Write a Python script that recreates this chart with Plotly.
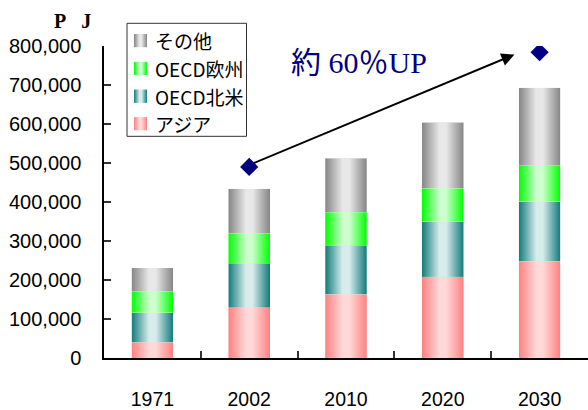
import base64
import plotly.graph_objects as go

# Energy demand by region (PJ)
years = ["1971", "2002", "2010", "2020", "2030"]
asia = [40000, 129000, 163000, 208000, 248000]
oecd_na = [76000, 114000, 126000, 142000, 153000]
oecd_eu = [55000, 77000, 85000, 85000, 92000]
others = [60000, 114000, 138000, 169000, 200000]

# Highlighted growth markers
marker_years = ["2002", "2030"]
marker_values = [490000, 784000]

y_ticks = [0, 100000, 200000, 300000, 400000, 500000, 600000, 700000, 800000]

series = [
    ("アジア", asia, "#ff8080", "#ffd8d8"),
    ("OECD北米", oecd_na, "#137a7a", "#d8ecec"),
    ("OECD欧州", oecd_eu, "#00ff00", "#ccffcc"),
    ("その他", others, "#858585", "#e8e8e8"),
]

BAR_WIDTH = 0.43

# plot area in pixels, used to place the hand-built legend
W, H = 588, 410
L, R, T, B = 104, 0, 46, 41
PW, PH = W - L - R, H - T - B


def px_x(px):
    return (px - L) / PW


def px_y(py):
    return (H - B - py) / PH


def gradient_uri(edge, center):
    svg = (
        '<svg xmlns="http://www.w3.org/2000/svg" width="100" height="100" '
        'viewBox="0 0 100 100" preserveAspectRatio="none">'
        '<defs><linearGradient id="g" x1="0" x2="1" y1="0" y2="0">'
        f'<stop offset="0" stop-color="{edge}"/>'
        f'<stop offset="0.42" stop-color="{center}"/>'
        f'<stop offset="0.58" stop-color="{center}"/>'
        f'<stop offset="1" stop-color="{edge}"/>'
        '</linearGradient></defs>'
        '<rect x="0" y="0" width="100" height="100" fill="url(#g)"/></svg>'
    )
    return "data:image/svg+xml;base64," + base64.b64encode(svg.encode()).decode()


fig = go.Figure()
images = []
annotations = []
base = [0] * len(years)
for i, (name, vals, edge, center) in enumerate(series):
    fig.add_trace(go.Bar(
        x=years, y=vals, name=name, width=BAR_WIDTH,
        marker=dict(color=center, line=dict(width=0)),
        showlegend=False,
    ))
    uri = gradient_uri(edge, center)
    for j, v in enumerate(vals):
        images.append(dict(
            source=uri, xref="x", yref="y",
            x=j - BAR_WIDTH / 2, y=base[j] + v,
            sizex=BAR_WIDTH, sizey=v,
            xanchor="left", yanchor="top",
            sizing="stretch", layer="above",
        ))
        base[j] += v

    # legend row (top row is the last series)
    row = len(series) - 1 - i
    cy = 40.5 + row * 28.7
    images.append(dict(
        source=uri, xref="paper", yref="paper",
        x=px_x(134), y=px_y(cy - 7), sizex=13 / PW, sizey=14 / PH,
        xanchor="left", yanchor="top", sizing="stretch", layer="above",
    ))
    annotations.append(dict(
        x=px_x(153), y=px_y(cy), xref="paper", yref="paper",
        xanchor="left", yanchor="middle", showarrow=False, text=name,
        font=dict(family="Noto Sans CJK JP", size=19, color="black"),
    ))

fig.add_trace(go.Scatter(
    x=marker_years, y=marker_values, mode="markers",
    marker=dict(symbol="diamond", size=14, color="#000080"),
    showlegend=False, hoverinfo="y",
))

annotations += [
    dict(
        x=3.74, y=778000, ax=1.03, ay=498000,
        xref="x", yref="y", axref="x", ayref="y",
        text="", showarrow=True, arrowhead=2, arrowsize=1.3,
        arrowwidth=2, arrowcolor="black",
    ),
    dict(
        x=px_x(289), y=px_y(63), xref="paper", yref="paper",
        xanchor="left", yanchor="middle", showarrow=False,
        text="約 60％UP",
        font=dict(family="Liberation Serif, Noto Sans CJK JP", size=30, color="#000080"),
    ),
    dict(
        x=px_x(72.5), y=px_y(20), xref="paper", yref="paper",
        xanchor="center", yanchor="middle", showarrow=False,
        text="<b>P\u00a0\u00a0\u00a0J</b>",
        font=dict(family="Liberation Serif, serif", size=20, color="black"),
    ),
]

fig.update_layout(
    width=W, height=H,
    margin=dict(l=L, r=R, t=T, b=B),
    paper_bgcolor="white", plot_bgcolor="white",
    barmode="stack",
    bargap=1 - BAR_WIDTH,
    images=images,
    showlegend=False,
    font=dict(family="Liberation Sans, Arial, sans-serif", size=19, color="black"),
    shapes=[dict(
        type="rect", xref="paper", yref="paper",
        x0=px_x(127), x1=px_x(246.5), y0=px_y(139.5), y1=px_y(22.5),
        line=dict(color="#333333", width=1), fillcolor="white", layer="below",
    )],
    xaxis=dict(
        type="category", categoryorder="array", categoryarray=years,
        showline=True, linecolor="black", linewidth=1.5,
        ticks="inside", ticklen=7, tickcolor="#333", tickwidth=1.5,
        tickson="boundaries", showgrid=False, zeroline=False,
        ticklabelstandoff=23,
        tickfont=dict(size=19.5),
    ),
    yaxis=dict(
        range=[0, 800000], tickvals=y_ticks, tickformat=",",
        showline=True, linecolor="black", linewidth=1.5,
        ticks="inside", ticklen=7, tickcolor="#333", tickwidth=1.5,
        showgrid=False, zeroline=False,
        ticklabelstandoff=17,
        tickfont=dict(size=20),
    ),
    annotations=annotations,
)

fig.write_html("out.html")
